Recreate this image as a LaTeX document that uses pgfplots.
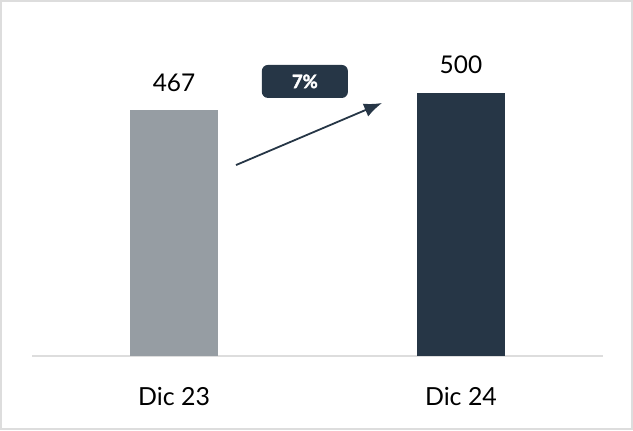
\documentclass[border=0pt]{standalone}
\usepackage{pgfplots}
\pgfplotsset{compat=1.18}
\usepackage{fontspec}
\setmainfont{Lato}
\newfontfamily\pctfont[FakeBold=2.2]{Lato}
\usetikzlibrary{arrows.meta}
\definecolor{barGris}{HTML}{969DA3}
\definecolor{barAzul}{HTML}{263646}
\definecolor{marco}{HTML}{DDDDDD}
\begin{document}
\begin{tikzpicture}[x=1bp,y=1bp]
  \useasboundingbox (0,0) rectangle (633,430);
  \draw[marco, line width=2bp] (1,1) rectangle (632,429);
  \begin{axis}[
      at={(32bp,74bp)}, anchor=south west,
      scale only axis,
      width=571bp, height=315.6bp,
      xmin=-0.495, xmax=1.495,
      ymin=0, ymax=600,
      ybar, bar width=88bp,
      axis x line=bottom, hide y axis,
      x axis line style={draw=marco, line width=1.5bp, -},
      xtick={0,1}, xticklabels={Dic 23, Dic 24},
      major tick length=0pt,
      xticklabel style={font=\fontsize{25}{28}\selectfont, inner sep=0pt, anchor=base, yshift=-49bp},
      nodes near coords,
      every node near coord/.append style={font=\fontsize{24.5}{28}\selectfont, black, inner sep=0pt, anchor=base, yshift=19bp},
      /pgf/number format/assume math mode=true,
      clip=false,
    ]
    \addplot[draw=none, fill=barGris, bar shift=0pt] coordinates {(0,467)};
    \addplot[draw=none, fill=barAzul, bar shift=0pt] coordinates {(1,500)};
    \draw[barAzul, line width=1.8bp, -{Latex[length=18bp, width=14bp]}] (axis cs:0.216,363) -- (axis cs:0.725,481);
    \node[fill=barAzul, rounded corners=6bp, minimum width=86bp, minimum height=33bp, text=white, font=\pctfont\bfseries\fontsize{18.5}{20}\selectfont, inner sep=0pt] at (axis cs:0.456,522) {7\%};
  \end{axis}
\end{tikzpicture}
\end{document}
